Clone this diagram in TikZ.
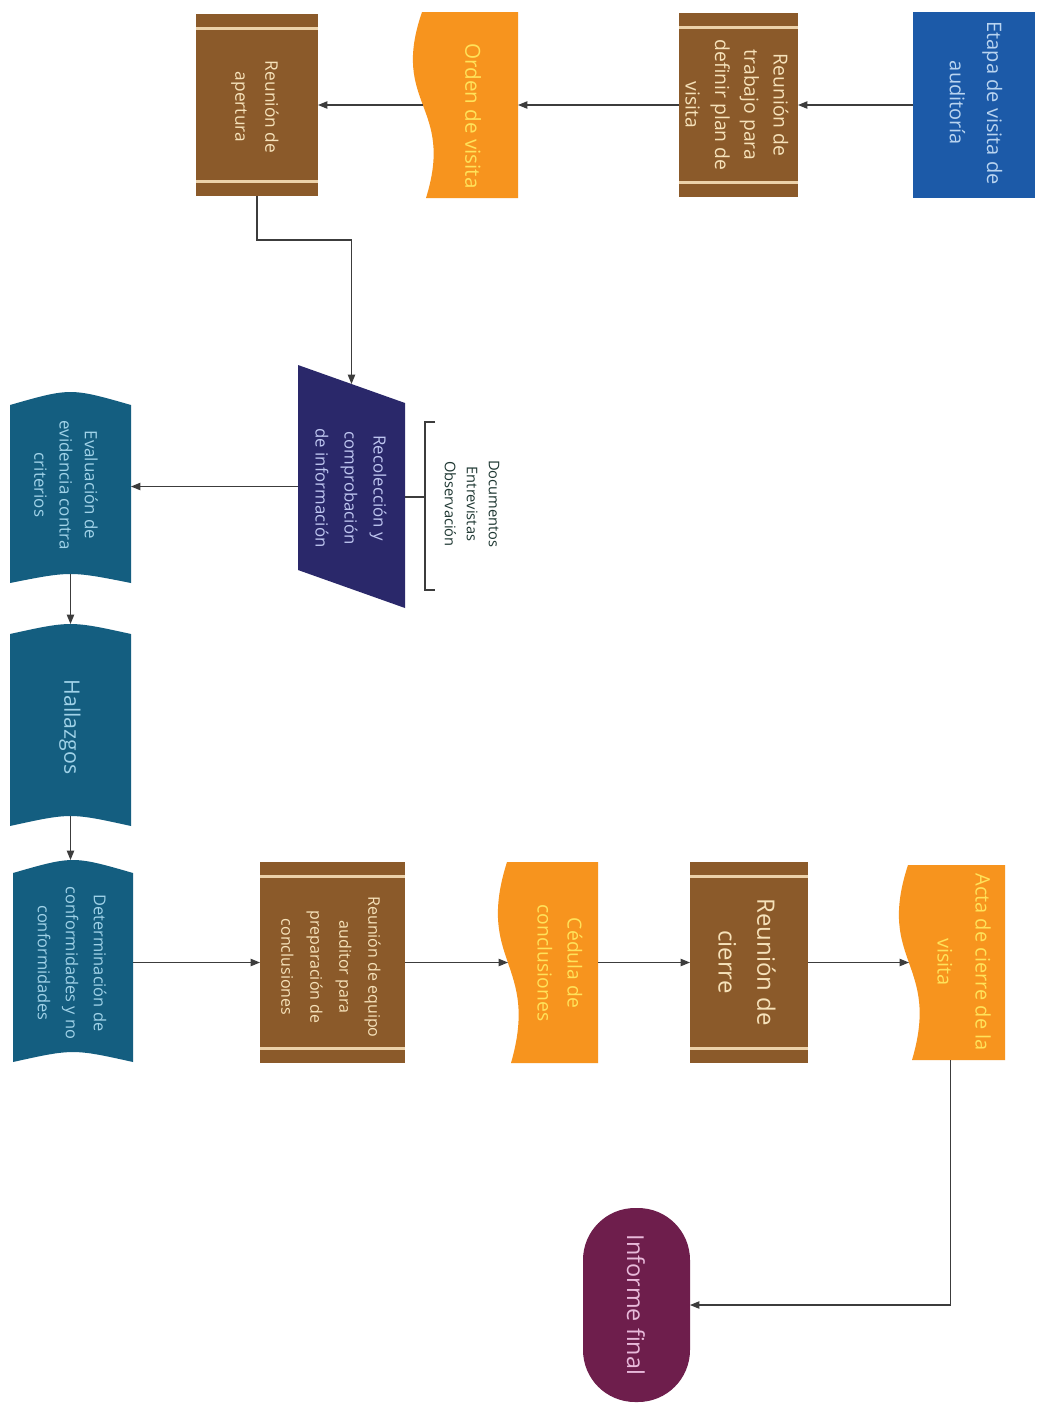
\documentclass[tikz,border=0pt]{standalone}
\usepackage{fontspec}
\setmainfont{Open Sans}
\usetikzlibrary{arrows.meta,calc}
\definecolor{brownc}{RGB}{139,90,42}
\definecolor{stripec}{RGB}{236,210,170}
\definecolor{browntxt}{RGB}{246,226,186}
\definecolor{orangec}{RGB}{247,148,30}
\definecolor{orangetxt}{RGB}{255,226,90}
\definecolor{bluec}{RGB}{28,90,168}
\definecolor{bluetxt}{RGB}{185,212,240}
\definecolor{tealc}{RGB}{20,94,128}
\definecolor{tealtxt}{RGB}{160,210,232}
\definecolor{navyc}{RGB}{42,40,106}
\definecolor{navytxt}{RGB}{190,198,240}
\definecolor{maroonc}{RGB}{110,30,76}
\definecolor{maroontxt}{RGB}{232,186,218}
\definecolor{linec}{RGB}{60,60,60}
\definecolor{notec}{RGB}{30,55,50}
\begin{document}
\begin{tikzpicture}[x=0.75pt,y=-0.75pt,
  conn/.style={draw=linec, line width=0.8pt, -{Triangle[length=7pt,width=5.5pt]}},
  plain/.style={draw=linec, line width=0.8pt},
  area/.style={inner sep=0pt, outer sep=0pt, draw=none},
  procbox/.style={area, fill=brownc, path picture={
    \draw[stripec, line width=1.6pt] ([yshift=-10.9pt]path picture bounding box.north west) -- ([yshift=-10.9pt]path picture bounding box.north east);
    \draw[stripec, line width=1.6pt] ([yshift=10.9pt]path picture bounding box.south west) -- ([yshift=10.9pt]path picture bounding box.south east);}},
  vtext/.style={rotate=-90, align=center, inner sep=0pt},
]
\useasboundingbox (0,0) rectangle (1039,1404);
\fill[white] (0,0) rectangle (1039,1404);

% ---------- shapes ----------
\node[area, fill=bluec, minimum width=91.5pt, minimum height=139.5pt] (etapa) at (974,105) {};
\node[procbox, minimum width=89.25pt, minimum height=138pt] (trabajo) at (738.5,105) {};
\fill[orangec] (422,12) .. controls (390,105) and (455,105) .. (426,198) -- (518,198) -- (518,12) -- cycle;
\node[area, minimum width=81pt, minimum height=139.5pt] (orden) at (464,105) {};
\node[procbox, minimum width=91.5pt, minimum height=136.5pt] (apertura) at (257,105) {};

\fill[navyc] (298,365) -- (405,403) -- (405,608) -- (298,570) -- cycle;
\node[area, minimum width=80.25pt, minimum height=153.75pt] (recol) at (351.5,486.5) {};

\fill[tealc] (10,405) .. controls (70.5,387.7) .. (131,405) -- (131,583) .. controls (70.5,571) .. (10,583) -- cycle;
\node[area, minimum width=90.75pt, minimum height=136.5pt] (eval) at (70.5,483) {};
\fill[tealc] (10,634) .. controls (70.5,620.7) .. (131,634) -- (131,826) .. controls (70.5,812.7) .. (10,826) -- cycle;
\node[area, minimum width=90.75pt, minimum height=144pt] (hall) at (70.5,720) {};
\fill[tealc] (13,873) .. controls (73,855.7) .. (133,873) -- (133,1062) .. controls (73,1048.7) .. (13,1062) -- cycle;
\node[area, minimum width=90pt, minimum height=144pt] (deter) at (73,956) {};

\node[procbox, minimum width=108.75pt, minimum height=150.75pt] (equipo) at (332.5,962.5) {};
\fill[orangec] (507,862) .. controls (475,962.5) and (540,962.5) .. (511,1063) -- (598,1063) -- (598,862) -- cycle;
\node[area, minimum width=77.25pt, minimum height=150.75pt] (cedula) at (546.5,962.5) {};
\node[procbox, minimum width=88.5pt, minimum height=150.75pt] (cierre) at (749,962.5) {};
\fill[orangec] (908,865) .. controls (876,962.5) and (941,962.5) .. (912,1060) -- (1005,1060) -- (1005,865) -- cycle;
\node[area, minimum width=81.75pt, minimum height=146.25pt] (acta) at (950.5,962.5) {};

\node[area, fill=maroonc, rounded corners=39pt, minimum width=80.25pt, minimum height=145.5pt] (informe) at (636.5,1305) {};

% ---------- connectors ----------
\draw[conn] (etapa.west) -- (trabajo.east);
\draw[conn] (trabajo.west) -- (orden.east);
\draw[conn] ([xshift=9.75pt]orden.west) -- (apertura.east);
\draw[conn] (apertura.south) -- ++(0,44) -| (recol.north);
\draw[conn] (recol.west) -- (recol.west -| eval.east);
\draw[conn] (eval.south) -- (hall.north);
\draw[conn] (hall.south) -- (hall.south |- deter.north);
\draw[conn] (deter.east |- equipo.west) -- (equipo.west);
\draw[conn] (equipo.east) -- ([xshift=9.75pt]cedula.west);
\draw[conn] (cedula.east) -- (cierre.west);
\draw[conn] (cierre.east) -- ([xshift=9.75pt]acta.west);
\draw[conn] (acta.south) |- (informe.east);

\coordinate (brk) at (425,497);
\draw[plain] (recol.east |- brk) -- (brk);
\draw[plain] (435,422) -- (425,422) -- (425,590) -- (435,590);

% ---------- texts ----------
\node[vtext, text=bluetxt, font=\fontsize{15}{28}\selectfont] (etapa-t) at (976,103) {Etapa de visita de\\auditoría};
\node[vtext, text=browntxt, font=\fontsize{14.5}{22}\selectfont] (trabajo-t) at (737,105) {Reunión de\\trabajo para\\definir plan de\\visita};
\node[vtext, text=orangetxt, font=\fontsize{15.5}{22}\selectfont] (orden-t) at (473,116) {Orden de visita};
\node[vtext, text=browntxt, font=\fontsize{13}{22.5}\selectfont] (apertura-t) at (255,107) {Reunión de\\apertura};
\node[vtext, text=navytxt, font=\fontsize{12.6}{21.75}\selectfont] (recol-t) at (351,488) {Recolección y\\comprobación\\de información};
\node[vtext, text=notec, font=\fontsize{11}{16.5}\selectfont] (docs) at (472,504) {Documentos\\Entrevistas\\Observación};
\node[vtext, text=tealtxt, font=\fontsize{12.7}{19}\selectfont] (eval-t) at (66,485) {Evaluación de\\evidencia contra\\criterios};
\node[vtext, text=tealtxt, font=\fontsize{16}{20}\selectfont] (hall-t) at (70,727) {Hallazgos};
\node[vtext, text=tealtxt, font=\fontsize{12.3}{21}\selectfont] (deter-t) at (72,963) {Determinación de\\conformidades y no\\conformidades};
\node[vtext, text=browntxt, font=\fontsize{12}{21.75}\selectfont] (equipo-t) at (331,967) {Reunión de equipo\\auditor para\\preparación de\\conclusiones};
\node[vtext, text=orangetxt, font=\fontsize{14.5}{22.5}\selectfont] (cedula-t) at (560,963) {Cédula de\\conclusiones};
\node[vtext, text=browntxt, font=\fontsize{18}{29}\selectfont] (cierre-t) at (747,962) {Reunión de\\cierre};
\node[vtext, text=orangetxt, font=\fontsize{15}{28.5}\selectfont] (acta-t) at (964,962) {Acta de cierre de la\\visita};
\node[vtext, text=maroontxt, font=\fontsize{17.5}{22}\selectfont] (informe-t) at (636,1305) {Informe final};
\end{tikzpicture}
\end{document}
